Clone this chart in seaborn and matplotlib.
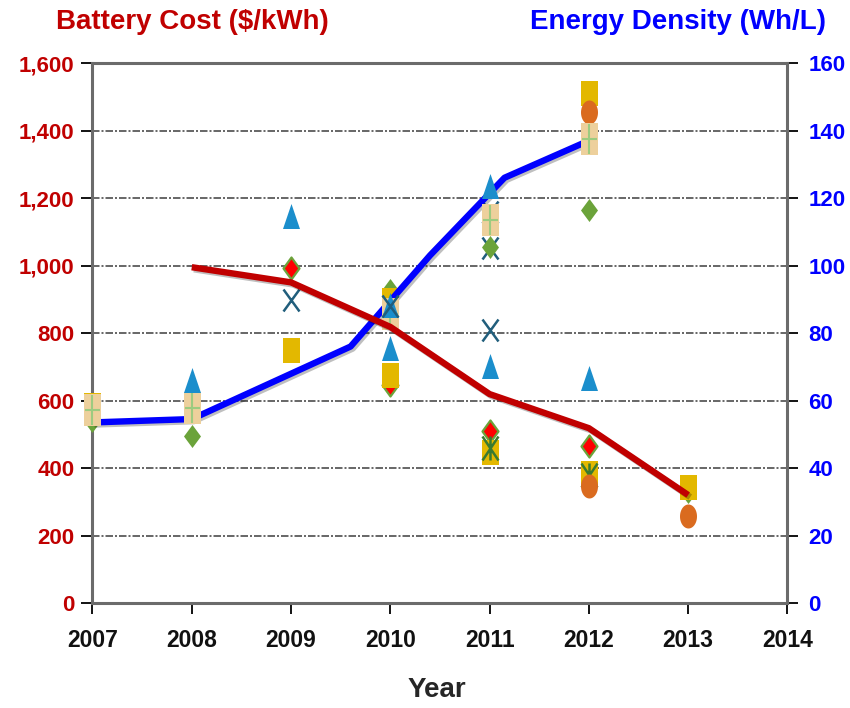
import numpy as np
import matplotlib
matplotlib.use("Agg")
import matplotlib.pyplot as plt
import seaborn as sns
from matplotlib.path import Path
from matplotlib import patheffects as pe
from matplotlib import font_manager as fm

# ---------------- data ----------------
cost_line_years = [2008, 2009, 2010, 2011, 2012, 2013]
cost_line_values = [995, 950, 818, 619, 518, 320]

density_line_years = [2007, 2008, 2009.6, 2010.4, 2011.15, 2012]
density_line_values = [53.5, 54.5, 76, 103, 126, 137]

density_pt_years = [2007, 2008, 2010, 2011, 2012]
density_pt_values = [57.2, 57.8, 85.6, 113.5, 137.5]

gold_years = [2007, 2009, 2010, 2010, 2011, 2012, 2012, 2013]
gold_values = [587, 751, 898, 675, 447, 1510, 384, 345]
orange_years = [2012, 2012, 2013]
orange_values = [1456, 348, 258]
tri_years = [2008, 2009, 2010, 2010, 2011, 2011, 2012]
tri_values = [661, 1147, 884, 755, 1236, 702, 667]
gdiam_years = [2007, 2008, 2010, 2011, 2012, 2013]
gdiam_values = [540, 495, 927, 1055, 1163, 330]
rdiam_years = [2009, 2010, 2011, 2012]
rdiam_values = [993, 646, 511, 465]
xa_years = [2009, 2010, 2011]
xa_values = [898, 880, 809]
xb_years = [2011, 2011]
xb_values = [1159, 1052]
ast_years = [2011, 2012]
ast_values = [459, 379]

year_ticks = list(range(2007, 2015))
cost_ticks = list(range(0, 1601, 200))
density_ticks = list(range(0, 161, 20))

# ---------------- style ----------------
sns.set_style("white")
names = {f.name for f in fm.fontManager.ttflist}
TITLE_FONT = "Liberation Sans Narrow" if "Liberation Sans Narrow" in names else "Liberation Sans"
TITLE_SIZE = 24.5 if TITLE_FONT == "Liberation Sans Narrow" else 20
plt.rcParams["font.family"] = ["Liberation Sans", "DejaVu Sans"]

DPI = 100
RED = "#C00000"
BLUE = "#0000FF"
SPINE = "#6B6B6B"


# ---------------- marker shapes (stretched like the reference) ----------------
def rect(w, h):
    v = [(-w / 2, -h / 2), (w / 2, -h / 2), (w / 2, h / 2), (-w / 2, h / 2), (-w / 2, -h / 2)]
    return Path(v, [Path.MOVETO] + [Path.LINETO] * 3 + [Path.CLOSEPOLY]), max(w, h)


def tri(w, h):
    v = [(-w / 2, -h / 2), (w / 2, -h / 2), (0, h / 2), (-w / 2, -h / 2)]
    return Path(v, [Path.MOVETO, Path.LINETO, Path.LINETO, Path.CLOSEPOLY]), max(w, h)


def diamond(w, h):
    v = [(0, h / 2), (w / 2, 0), (0, -h / 2), (-w / 2, 0), (0, h / 2)]
    return Path(v, [Path.MOVETO] + [Path.LINETO] * 3 + [Path.CLOSEPOLY]), max(w, h)


def ellipse(w, h):
    t = np.linspace(0, 2 * np.pi, 48)
    v = np.column_stack([w / 2 * np.cos(t), h / 2 * np.sin(t)])
    codes = [Path.MOVETO] + [Path.LINETO] * (len(v) - 2) + [Path.CLOSEPOLY]
    return Path(v, codes), max(w, h)


def xmark(w, h):
    v = [(-w / 2, -h / 2), (w / 2, h / 2), (-w / 2, h / 2), (w / 2, -h / 2)]
    return Path(v, [Path.MOVETO, Path.LINETO, Path.MOVETO, Path.LINETO]), max(w, h)


def asterisk(w, h):
    v = [(-w / 2, -h / 2), (w / 2, h / 2), (-w / 2, h / 2), (w / 2, -h / 2), (0, -h / 2), (0, h / 2)]
    c = [Path.MOVETO, Path.LINETO] * 3
    return Path(v, c), max(w, h)


def plus(w, h):
    v = [(-w / 2, 0), (w / 2, 0), (0, -h / 2), (0, h / 2)]
    return Path(v, [Path.MOVETO, Path.LINETO, Path.MOVETO, Path.LINETO]), max(w, h)


def scat(ax, xs, ys, mk, color, edge=None, lw=0.0, z=3):
    path, ext = mk
    ms = ext * 72.0 / DPI
    sns.scatterplot(x=xs, y=ys, ax=ax, marker=path, s=ms ** 2, color=color,
                    edgecolor=edge if edge else color, linewidth=lw,
                    zorder=z, legend=False, clip_on=False)


def line(ax, xs, ys, color, z):
    sns.lineplot(x=xs, y=ys, ax=ax, color=color, linewidth=4.6, zorder=z,
                 legend=False, estimator=None)
    ln = ax.lines[-1]
    ln.set_solid_capstyle("butt")
    ln.set_solid_joinstyle("round")
    ln.set_clip_on(False)
    ln.set_path_effects([pe.SimpleLineShadow(offset=(1.5, -1.5), shadow_color="k", alpha=0.25),
                         pe.Normal()])


# ---------------- figure ----------------
fig = plt.figure(figsize=(8.5, 7.08), dpi=DPI)
fig.patch.set_facecolor("white")
ax = fig.add_axes([0.1088, 0.1483, 0.8176, 0.7627])
ax2 = ax.twinx()
ax3 = ax.twinx()

for a in (ax, ax3):
    a.set_xlim(2007, 2014)
    a.set_ylim(0, 1600)
ax2.set_ylim(0, 160)

# grid
ax.set_axisbelow(True)
ax.yaxis.grid(True, color="#4D4D4D", linewidth=1.2, linestyle=(0, (4.5, 1.2, 1.2, 1.2)))
ax.xaxis.grid(False)

# lower layer (cost axis)
scat(ax, xb_years, xb_values, xmark(16, 22), "#215E7C", lw=1.8, z=2)
scat(ax, gdiam_years, gdiam_values, diamond(17, 23), "#6BA33A", z=3)
scat(ax, rdiam_years, rdiam_values, diamond(16, 22), "#FF0000", edge="#6BA33A", lw=1.6, z=4)
scat(ax, gold_years, gold_values, rect(17, 25), "#E3B800", z=5)
scat(ax, ast_years, ast_values, asterisk(16, 24), "#3A7A30", lw=1.8, z=6)
scat(ax, orange_years, orange_values, ellipse(17, 24), "#DA6B1F", z=7)

# energy density layer
line(ax2, density_line_years, density_line_values, BLUE, 2)
scat(ax2, density_pt_years, density_pt_values, rect(17, 32), "#EDD09C", z=3)
scat(ax2, density_pt_years, density_pt_values, plus(15, 30), "#9CCB80", lw=1.5, z=4)

# top layer
scat(ax3, tri_years, tri_values, tri(17, 25), "#1B8ECC", z=2)
scat(ax3, xa_years, xa_values, xmark(16, 22), "#215E7C", lw=1.8, z=3)
line(ax3, cost_line_years, cost_line_values, RED, 4)

# ---------------- axes styling ----------------
for a in (ax, ax2, ax3):
    a.set_xlabel("")
    a.set_ylabel("")

ax3.set_axis_off()

for s in ("left", "top", "bottom"):
    ax.spines[s].set_visible(True)
    ax.spines[s].set_color(SPINE)
    ax.spines[s].set_linewidth(2.2)
ax.spines["right"].set_visible(False)
for s in ("left", "top", "bottom"):
    ax2.spines[s].set_visible(False)
ax2.spines["right"].set_visible(True)
ax2.spines["right"].set_color(SPINE)
ax2.spines["right"].set_linewidth(2.2)

ax.set_xticks(year_ticks)
ax.set_xticklabels([str(y) for y in year_ticks], fontsize=16.5, fontweight="bold", color="#111111")
ax.set_yticks(cost_ticks)
ax.set_yticklabels([f"{v:,}" for v in cost_ticks], fontsize=16, fontweight="bold", color=RED)
ax2.set_yticks(density_ticks)
ax2.set_yticklabels([str(v) for v in density_ticks], fontsize=16, fontweight="bold", color=BLUE)

ax.tick_params(axis="x", direction="out", length=8, width=1.3, color="black", pad=11, bottom=True)
ax.tick_params(axis="y", direction="out", length=8, width=1.3, color="black", pad=5, left=True)
ax2.tick_params(axis="y", direction="out", length=8, width=1.3, color="black", pad=7, right=True)

# ---------------- titles ----------------
fig.text(192.5 / 850, 1 - 22 / 708, "Battery Cost ($/kWh)", ha="center", va="center",
         fontsize=TITLE_SIZE, fontweight="bold", color=RED, family=[TITLE_FONT, "DejaVu Sans"])
fig.text(678 / 850, 1 - 22 / 708, "Energy Density (Wh/L)", ha="center", va="center",
         fontsize=TITLE_SIZE, fontweight="bold", color=BLUE, family=[TITLE_FONT, "DejaVu Sans"])
fig.text(437 / 850, 1 - 690 / 708, "Year", ha="center", va="center",
         fontsize=20, fontweight="bold", color="#262626")

fig.savefig("out.png", dpi=DPI, facecolor="white")
